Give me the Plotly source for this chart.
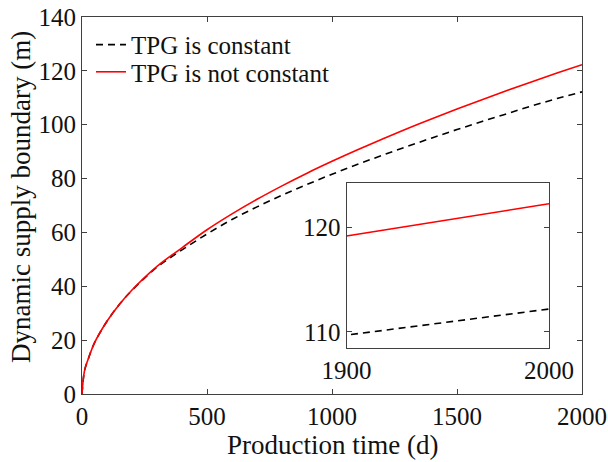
import plotly.graph_objects as go

t = [0, 10, 25, 50, 100, 150, 200, 300, 400, 500, 600, 700, 800, 900, 1000,
     1100, 1200, 1300, 1400, 1500, 1600, 1700, 1800, 1900, 2000]
red = [0, 8.6, 13.0, 19.0, 27.0, 33.3, 38.6, 47.4, 54.3, 61.0, 66.9, 72.3, 77.3, 82.0, 86.4,
       90.6, 94.6, 98.5, 102.2, 105.8, 109.3, 112.7, 116.0, 119.2, 122.3]
black = [0, 8.6, 13.0, 19.0, 27.0, 33.3, 38.5, 47.1, 53.5, 59.4, 64.8, 69.5, 73.8, 77.8, 81.6,
         85.2, 88.6, 91.9, 95.1, 98.2, 101.2, 104.1, 107.0, 109.7, 112.2]

x_ticks = [0, 500, 1000, 1500, 2000]
y_ticks = [0, 20, 40, 60, 80, 100, 120, 140]
inset_x_ticks = [1900, 2000]
inset_y_ticks = [110, 120]
x_title = "Production time (d)"
y_title = "Dynamic supply boundary (m)"

FONT = "Liberation Serif"
AX = "#404040"

fig = go.Figure()
fig.add_trace(go.Scatter(x=t, y=black, mode="lines", name="TPG is constant", legend="legend",
                         line=dict(color="black", width=1.6, dash="7px,5px", shape="spline")))
fig.add_trace(go.Scatter(x=t, y=red, mode="lines", name="TPG is not constant", legend="legend2",
                         line=dict(color="red", width=1.6, shape="spline")))
fig.add_trace(go.Scatter(x=t, y=black, mode="lines", showlegend=False, xaxis="x2", yaxis="y2",
                         line=dict(color="black", width=1.6, dash="7px,5px")))
fig.add_trace(go.Scatter(x=t, y=red, mode="lines", showlegend=False, xaxis="x2", yaxis="y2",
                         line=dict(color="red", width=1.6)))

axis_common = dict(showline=True, linecolor=AX, linewidth=1, mirror="ticks", ticks="inside",
                   ticklen=5, tickcolor=AX, showgrid=False, zeroline=False, automargin=False,
                   tickfont=dict(family=FONT, size=25, color="#111"))

leg_common = dict(xanchor="left", yanchor="middle", bgcolor="rgba(0,0,0,0)",
                  font=dict(family=FONT, size=25, color="#111"), itemwidth=30)

fig.update_layout(
    width=608, height=462,
    margin=dict(l=82, r=26, t=17, b=68),
    paper_bgcolor="white", plot_bgcolor="white",
    font=dict(family=FONT, color="#111"),
    showlegend=True,
    legend=dict(x=0.018, y=0.926, **leg_common),
    legend2=dict(x=0.018, y=0.854, **leg_common),
    xaxis=dict(range=[0, 2000], tickvals=x_ticks, domain=[0, 1], **axis_common),
    yaxis=dict(range=[0, 140], tickvals=y_ticks, domain=[0, 1], **axis_common),
    xaxis2=dict(range=[1900, 2000], tickvals=inset_x_ticks, domain=[0.529, 0.934], anchor="y2",
                **axis_common),
    yaxis2=dict(range=[108.5, 124.3], tickvals=inset_y_ticks, domain=[0.123, 0.560], anchor="x2",
                **axis_common),
    annotations=[
        dict(text=x_title, xref="paper", yref="paper", x=0.5, y=0, xanchor="center",
             yanchor="middle", yshift=-51, showarrow=False,
             font=dict(family=FONT, size=27, color="#111")),
        dict(text=y_title, xref="paper", yref="paper", x=0, y=0.5225, xanchor="center",
             yanchor="middle", xshift=-61, textangle=-90, showarrow=False,
             font=dict(family=FONT, size=27, color="#111")),
    ],
)

fig.write_html("out.html")
